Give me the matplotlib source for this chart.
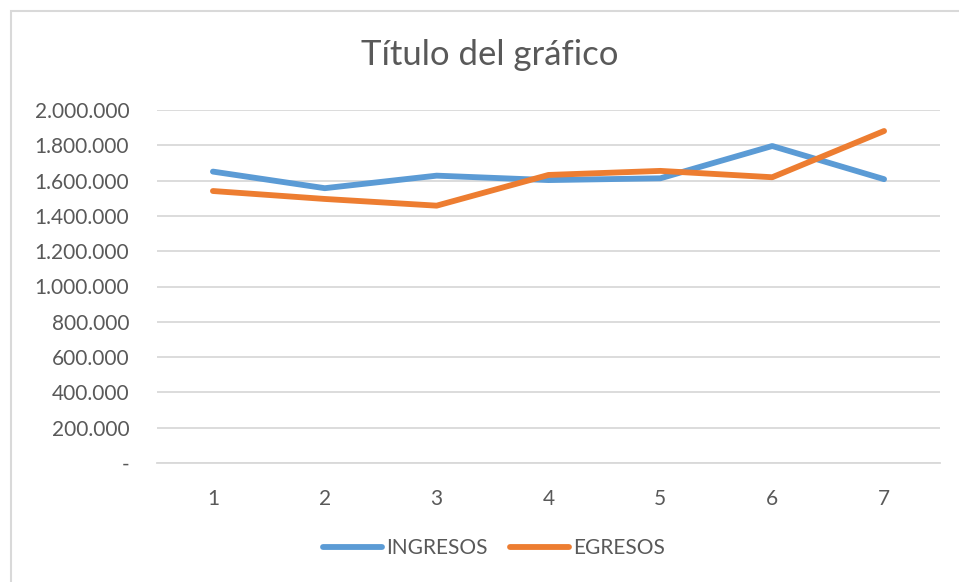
import matplotlib
matplotlib.use("Agg")
import matplotlib.pyplot as plt
from matplotlib.ticker import FuncFormatter, MultipleLocator
from matplotlib.patches import Rectangle

# datos
periodos = [1, 2, 3, 4, 5, 6, 7]
ingresos = [1651000, 1557000, 1628000, 1603000, 1613000, 1796000, 1608000]
egresos = [1541000, 1496000, 1458000, 1632000, 1655000, 1619000, 1881000]

AZUL = "#5B9BD5"
NARANJA = "#ED7D31"
GRIS_TXT = "#595959"
GRIS_LINEA = "#D9D9D9"

plt.rcParams["font.family"] = ["Lato", "DejaVu Sans"]

fig = plt.figure(figsize=(9.59, 5.82), dpi=100)

# marco del area del grafico
fig.patches.append(Rectangle((11 / 959, -0.1), 1.2, 1 - 11 / 582 + 0.1,
                             transform=fig.transFigure, fill=False,
                             edgecolor=GRIS_LINEA, linewidth=1.5))

ax = fig.add_axes([157 / 959, (582 - 463) / 582, (940 - 157) / 959, (463 - 110) / 582])

ax.plot(periodos, ingresos, color=AZUL, linewidth=4.2, label="INGRESOS",
        solid_capstyle="round", solid_joinstyle="round")
ax.plot(periodos, egresos, color=NARANJA, linewidth=4.2, label="EGRESOS",
        solid_capstyle="round", solid_joinstyle="round")

ax.set_xlim(0.5, 7.5)
ax.set_ylim(0, 2000000)
ax.set_xticks(periodos)
ax.yaxis.set_major_locator(MultipleLocator(200000))


def miles(v, pos):
    if v == 0:
        return "-"
    return f"{int(v):,}".replace(",", ".")


ax.yaxis.set_major_formatter(FuncFormatter(miles))
ax.grid(axis="y", color=GRIS_LINEA, linewidth=1.3)
ax.set_axisbelow(True)
for lado in ["top", "right", "left"]:
    ax.spines[lado].set_visible(False)
ax.spines["bottom"].set_color(GRIS_LINEA)
ax.spines["bottom"].set_linewidth(1.3)
ax.tick_params(axis="both", length=0, labelsize=15, labelcolor=GRIS_TXT)
ax.tick_params(axis="y", pad=20)
ax.tick_params(axis="x", pad=19)

fig.text(490 / 959, 1 - 55 / 582, "Título del gráfico", ha="center", va="center",
         fontsize=25, color=GRIS_TXT)

fig.legend(loc="center", bbox_to_anchor=(494 / 959, 1 - 548 / 582), ncol=2,
           frameon=False, fontsize=15, labelcolor=GRIS_TXT, handlelength=2.8,
           handletextpad=0.2, columnspacing=1.1)

fig.savefig("out.png", dpi=100, facecolor="white")
